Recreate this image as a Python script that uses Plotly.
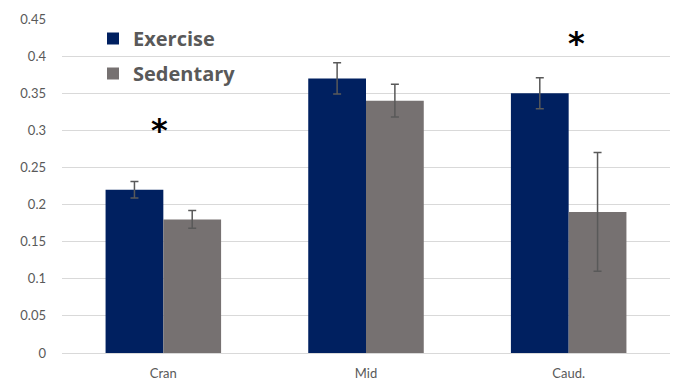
import plotly.graph_objects as go

# Regions along the spine
regions = ["Cran", "Mid", "Caud."]

# Group means and error (± SD)
exercise = [0.22, 0.37, 0.35]
exercise_err = [0.011, 0.021, 0.021]
sedentary = [0.18, 0.34, 0.19]
sedentary_err = [0.012, 0.022, 0.08]

# Significance markers: region, height of the marker, horizontal nudge (px)
sig_regions = ["Cran", "Caud."]
sig_heights = [0.301, 0.417]
sig_shift = [-4, 8]

NAVY = "#002060"
GRAY = "#767171"
TXT = "#595959"
FONT = "Lato, 'Open Sans', Arial, sans-serif"

fig = go.Figure()
fig.add_trace(go.Bar(
    name="Exercise", x=regions, y=exercise, marker_color=NAVY,
    marker_line_width=0, legendgroup="a",
    error_y=dict(type="data", array=exercise_err, color=TXT, thickness=1.5, width=4),
))
fig.add_trace(go.Bar(
    name="Sedentary", x=regions, y=sedentary, marker_color=GRAY,
    marker_line_width=0, legendgroup="b",
    error_y=dict(type="data", array=sedentary_err, color=TXT, thickness=1.5, width=4),
))

for r, h, s in zip(sig_regions, sig_heights, sig_shift):
    fig.add_annotation(x=r, y=h, text="<b>*</b>", showarrow=False, xshift=s,
                       yanchor="middle", font=dict(size=32, color="black",
                                                   family="DejaVu Sans"))

fig.update_layout(
    width=676, height=387,
    margin=dict(l=62, r=6, t=19, b=31),
    paper_bgcolor="white", plot_bgcolor="white",
    barmode="group", bargap=0.43, bargroupgap=0,
    font=dict(family=FONT, color=TXT, size=13),
    legend=dict(x=0.051, y=1.0, xanchor="left", yanchor="top",
                font=dict(size=20, color=TXT, family="'Open Sans', Arial", weight="bold"),
                bgcolor="rgba(0,0,0,0)", tracegroupgap=6, itemwidth=30),
    showlegend=True,
)
fig.update_xaxes(showgrid=False, showline=False, ticks="", ticklabelstandoff=11,
                 tickfont=dict(size=13, color=TXT))
fig.update_yaxes(range=[0, 0.45], dtick=0.05, tickformat="~g", showgrid=True,
                 gridcolor="#d9d9d9", gridwidth=1, zeroline=True, zerolinecolor="#d9d9d9",
                 zerolinewidth=1, showline=False, ticks="", ticklabelstandoff=15,
                 tickfont=dict(size=13, color=TXT))

fig.write_html("out.html")
